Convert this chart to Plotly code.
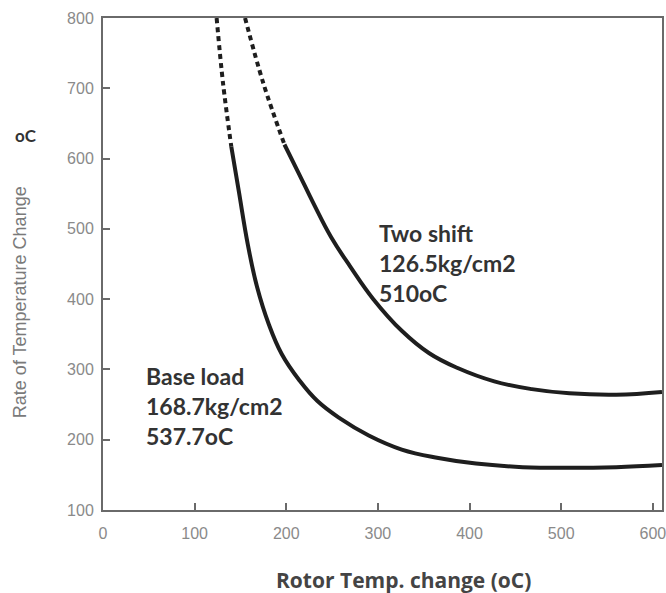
import plotly.graph_objects as go

# Base load curve (168.7 kg/cm2, 537.7 oC)
base_dash_x = [124, 131, 140]
base_dash_y = [800, 707, 617]
base_x = [140, 148, 158, 168, 181, 195, 214, 234, 259, 290, 326, 366, 407, 458, 509, 560, 610]
base_y = [617, 555, 478, 418, 364, 322, 285, 255, 230, 206, 186, 174, 166, 161, 160, 161, 164]

# Two shift curve (126.5 kg/cm2, 510 oC)
two_dash_x = [155, 175, 198]
two_dash_y = [800, 707, 620]
two_x = [198, 214, 229, 249, 270, 295, 326, 356, 387, 427, 468, 509, 560, 610]
two_y = [620, 578, 538, 488, 446, 400, 355, 323, 302, 283, 272, 266, 264, 268]

x_ticks = [0, 100, 200, 300, 400, 500, 600]
y_ticks = [100, 200, 300, 400, 500, 600, 700, 800]

line_col = "#1e1e1e"
fig = go.Figure()
fig.add_trace(go.Scatter(x=base_dash_x, y=base_dash_y, mode="lines",
                         line=dict(color=line_col, width=4, dash="5px,4px", shape="spline")))
fig.add_trace(go.Scatter(x=base_x, y=base_y, mode="lines",
                         line=dict(color=line_col, width=4, shape="spline", smoothing=1.2)))
fig.add_trace(go.Scatter(x=two_dash_x, y=two_dash_y, mode="lines",
                         line=dict(color=line_col, width=4, dash="5px,4px", shape="spline")))
fig.add_trace(go.Scatter(x=two_x, y=two_y, mode="lines",
                         line=dict(color=line_col, width=4, shape="spline", smoothing=1.2)))

txt_font = dict(family="Lato, Open Sans, sans-serif", size=23, color="#333333")
fig.add_annotation(x=45, y=248, xref="x", yref="y", xanchor="left", yanchor="middle",
                   text="<b>Base load</b><br><b>168.7kg/cm2</b><br><b>537.7oC</b>",
                   showarrow=False, align="left", font=txt_font)
fig.add_annotation(x=299, y=451, xref="x", yref="y", xanchor="left", yanchor="middle",
                   text="<b>Two shift</b><br><b>126.5kg/cm2</b><br><b>510oC</b>",
                   showarrow=False, align="left", font=txt_font)

fig.add_annotation(x=-0.148, y=0.423, xref="paper", yref="paper", xanchor="center", yanchor="middle",
                   text="Rate of Temperature Change", textangle=-90, showarrow=False,
                   font=dict(family="Liberation Sans, Arial, sans-serif", size=18, color="#7a7a7a"))
fig.add_annotation(x=-0.137, y=0.762, xref="paper", yref="paper", xanchor="center", yanchor="middle",
                   text="<b>oC</b>", showarrow=False,
                   font=dict(family="Lato, sans-serif", size=17, color="#333333"))
fig.add_annotation(x=0.538, y=(510 - 580) / 492, xref="paper", yref="paper", xanchor="center", yanchor="middle",
                   text="<b>Rotor Temp. change (oC)</b>", showarrow=False,
                   font=dict(family="Open Sans, Lato, sans-serif", size=21, color="#444444"))

axis_common = dict(showgrid=False, zeroline=False, showline=True, linecolor="#6a6a6a",
                   linewidth=2, mirror=True, ticks="inside", ticklen=7, tickwidth=1.5,
                   tickcolor="#6a6a6a", automargin=False,
                   tickfont=dict(family="Liberation Sans, Arial, sans-serif", size=16, color="#8a8a8a"))
fig.update_xaxes(range=[0, 610], tickvals=x_ticks, ticktext=[str(v) for v in x_ticks],
                 ticklabelstandoff=8, ticklabeloverflow="allow", **axis_common)
fig.update_yaxes(range=[100, 800], tickvals=y_ticks, ticktext=[str(v) for v in y_ticks],
                 ticklabelstandoff=4, ticklabeloverflow="allow", **axis_common)

fig.update_layout(width=666, height=593, margin=dict(l=103, r=4, t=18, b=83),
                  showlegend=False, plot_bgcolor="white", paper_bgcolor="white")
fig.write_html("out.html", config={"displayModeBar": False},
               post_script="document.body.style.margin='0';document.body.style.overflow='hidden';")
